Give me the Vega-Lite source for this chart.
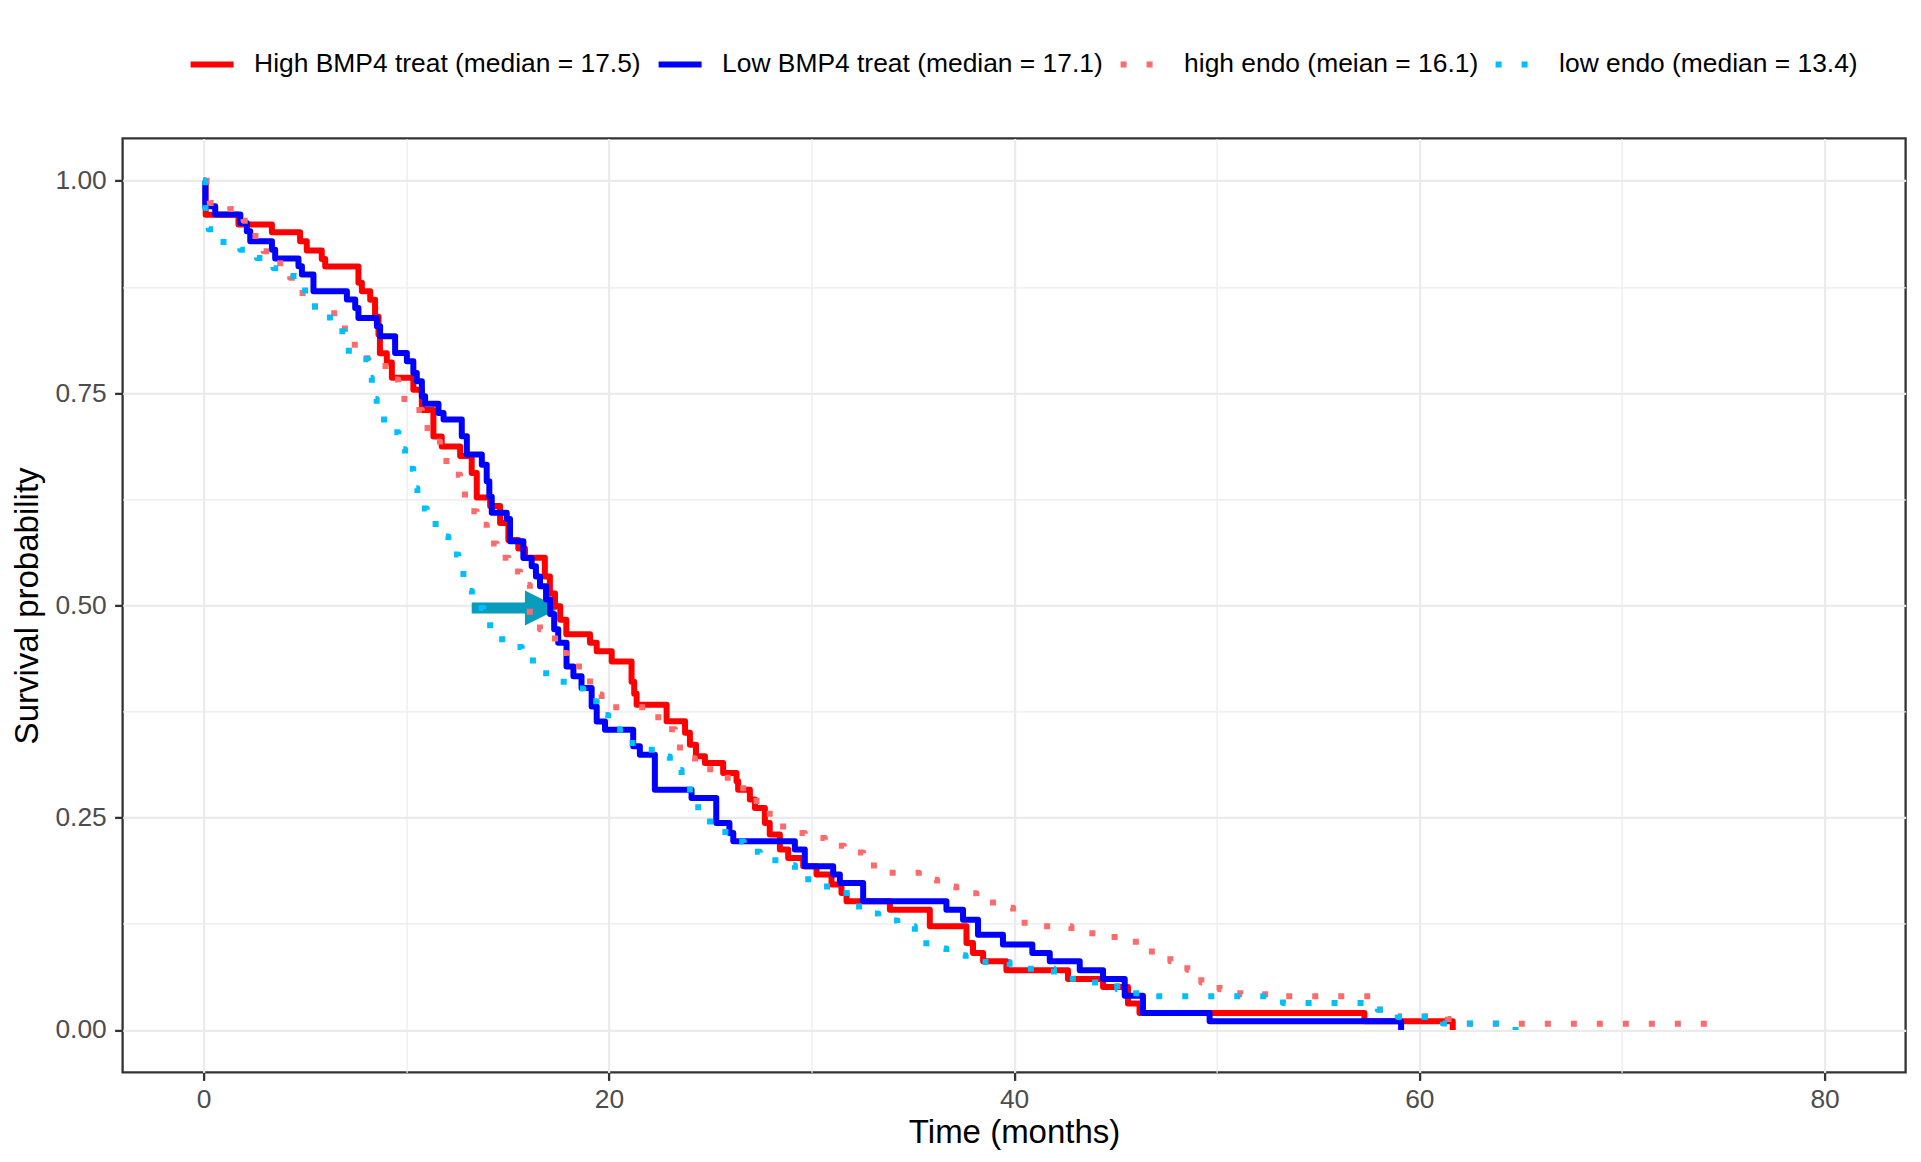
{
  "$schema": "https://vega.github.io/schema/vega-lite/v6.json",
  "width": 1783,
  "height": 934,
  "autosize": {"type": "none"},
  "padding": {"left": 122.6, "top": 138.4, "right": 15.4, "bottom": 89.6},
  "background": "#ffffff",
  "config": {
    "font": "Liberation Sans",
    "view": {"stroke": "#333333", "strokeWidth": 2.3},
    "axis": {"domain": false, "labelFont": "Liberation Sans", "titleFont": "Liberation Sans"}
  },
  "datasets": {
    "shaft": [{"time": 13.23, "time2": 15.95, "surv": 0.497}],
    "head": [{"time": 16.72, "surv": 0.497}],
    "km": [
      {"group": "High BMP4 treat (median = 17.5)", "time": 0, "surv": 1.0},
      {"group": "High BMP4 treat (median = 17.5)", "time": 0.1, "surv": 0.96},
      {"group": "High BMP4 treat (median = 17.5)", "time": 1.72, "surv": 0.9485},
      {"group": "High BMP4 treat (median = 17.5)", "time": 3.37, "surv": 0.9395},
      {"group": "High BMP4 treat (median = 17.5)", "time": 4.76, "surv": 0.929},
      {"group": "High BMP4 treat (median = 17.5)", "time": 5.09, "surv": 0.918},
      {"group": "High BMP4 treat (median = 17.5)", "time": 5.83, "surv": 0.908},
      {"group": "High BMP4 treat (median = 17.5)", "time": 6.0, "surv": 0.899},
      {"group": "High BMP4 treat (median = 17.5)", "time": 7.64, "surv": 0.88},
      {"group": "High BMP4 treat (median = 17.5)", "time": 7.81, "surv": 0.87},
      {"group": "High BMP4 treat (median = 17.5)", "time": 8.22, "surv": 0.86},
      {"group": "High BMP4 treat (median = 17.5)", "time": 8.46, "surv": 0.84},
      {"group": "High BMP4 treat (median = 17.5)", "time": 8.63, "surv": 0.819},
      {"group": "High BMP4 treat (median = 17.5)", "time": 8.7, "surv": 0.797},
      {"group": "High BMP4 treat (median = 17.5)", "time": 9.04, "surv": 0.786},
      {"group": "High BMP4 treat (median = 17.5)", "time": 9.29, "surv": 0.768},
      {"group": "High BMP4 treat (median = 17.5)", "time": 10.35, "surv": 0.754},
      {"group": "High BMP4 treat (median = 17.5)", "time": 10.77, "surv": 0.73},
      {"group": "High BMP4 treat (median = 17.5)", "time": 11.34, "surv": 0.699},
      {"group": "High BMP4 treat (median = 17.5)", "time": 11.75, "surv": 0.687},
      {"group": "High BMP4 treat (median = 17.5)", "time": 12.66, "surv": 0.676},
      {"group": "High BMP4 treat (median = 17.5)", "time": 13.23, "surv": 0.656},
      {"group": "High BMP4 treat (median = 17.5)", "time": 13.48, "surv": 0.627},
      {"group": "High BMP4 treat (median = 17.5)", "time": 14.14, "surv": 0.617},
      {"group": "High BMP4 treat (median = 17.5)", "time": 14.63, "surv": 0.597},
      {"group": "High BMP4 treat (median = 17.5)", "time": 15.04, "surv": 0.577},
      {"group": "High BMP4 treat (median = 17.5)", "time": 15.53, "surv": 0.567},
      {"group": "High BMP4 treat (median = 17.5)", "time": 15.86, "surv": 0.556},
      {"group": "High BMP4 treat (median = 17.5)", "time": 16.84, "surv": 0.534},
      {"group": "High BMP4 treat (median = 17.5)", "time": 17.09, "surv": 0.514},
      {"group": "High BMP4 treat (median = 17.5)", "time": 17.34, "surv": 0.499},
      {"group": "High BMP4 treat (median = 17.5)", "time": 17.6, "surv": 0.483},
      {"group": "High BMP4 treat (median = 17.5)", "time": 17.9, "surv": 0.466},
      {"group": "High BMP4 treat (median = 17.5)", "time": 19.07, "surv": 0.456},
      {"group": "High BMP4 treat (median = 17.5)", "time": 19.4, "surv": 0.446},
      {"group": "High BMP4 treat (median = 17.5)", "time": 20.14, "surv": 0.434},
      {"group": "High BMP4 treat (median = 17.5)", "time": 21.12, "surv": 0.41},
      {"group": "High BMP4 treat (median = 17.5)", "time": 21.25, "surv": 0.396},
      {"group": "High BMP4 treat (median = 17.5)", "time": 21.37, "surv": 0.383},
      {"group": "High BMP4 treat (median = 17.5)", "time": 22.85, "surv": 0.3635},
      {"group": "High BMP4 treat (median = 17.5)", "time": 23.76, "surv": 0.35},
      {"group": "High BMP4 treat (median = 17.5)", "time": 24.0, "surv": 0.336},
      {"group": "High BMP4 treat (median = 17.5)", "time": 24.3, "surv": 0.3223},
      {"group": "High BMP4 treat (median = 17.5)", "time": 24.74, "surv": 0.3144},
      {"group": "High BMP4 treat (median = 17.5)", "time": 25.64, "surv": 0.3027},
      {"group": "High BMP4 treat (median = 17.5)", "time": 26.3, "surv": 0.293},
      {"group": "High BMP4 treat (median = 17.5)", "time": 26.38, "surv": 0.283},
      {"group": "High BMP4 treat (median = 17.5)", "time": 26.96, "surv": 0.2713},
      {"group": "High BMP4 treat (median = 17.5)", "time": 27.21, "surv": 0.2615},
      {"group": "High BMP4 treat (median = 17.5)", "time": 27.7, "surv": 0.2438},
      {"group": "High BMP4 treat (median = 17.5)", "time": 27.94, "surv": 0.2301},
      {"group": "High BMP4 treat (median = 17.5)", "time": 28.44, "surv": 0.2124},
      {"group": "High BMP4 treat (median = 17.5)", "time": 28.85, "surv": 0.2026},
      {"group": "High BMP4 treat (median = 17.5)", "time": 29.59, "surv": 0.1928},
      {"group": "High BMP4 treat (median = 17.5)", "time": 30.25, "surv": 0.183},
      {"group": "High BMP4 treat (median = 17.5)", "time": 30.99, "surv": 0.1712},
      {"group": "High BMP4 treat (median = 17.5)", "time": 31.48, "surv": 0.1613},
      {"group": "High BMP4 treat (median = 17.5)", "time": 31.73, "surv": 0.1515},
      {"group": "High BMP4 treat (median = 17.5)", "time": 33.87, "surv": 0.1417},
      {"group": "High BMP4 treat (median = 17.5)", "time": 35.84, "surv": 0.1221},
      {"group": "High BMP4 treat (median = 17.5)", "time": 37.65, "surv": 0.1024},
      {"group": "High BMP4 treat (median = 17.5)", "time": 37.97, "surv": 0.0907},
      {"group": "High BMP4 treat (median = 17.5)", "time": 38.47, "surv": 0.0809},
      {"group": "High BMP4 treat (median = 17.5)", "time": 39.62, "surv": 0.0702},
      {"group": "High BMP4 treat (median = 17.5)", "time": 42.66, "surv": 0.06},
      {"group": "High BMP4 treat (median = 17.5)", "time": 44.39, "surv": 0.0506},
      {"group": "High BMP4 treat (median = 17.5)", "time": 45.62, "surv": 0.031},
      {"group": "High BMP4 treat (median = 17.5)", "time": 46.19, "surv": 0.0201},
      {"group": "High BMP4 treat (median = 17.5)", "time": 57.29, "surv": 0.0103},
      {"group": "High BMP4 treat (median = 17.5)", "time": 61.65, "surv": 0.0},
      {"group": "Low BMP4 treat (median = 17.1)", "time": 0, "surv": 1.0},
      {"group": "Low BMP4 treat (median = 17.1)", "time": 0.08, "surv": 0.97},
      {"group": "Low BMP4 treat (median = 17.1)", "time": 0.57, "surv": 0.9603},
      {"group": "Low BMP4 treat (median = 17.1)", "time": 1.81, "surv": 0.9505},
      {"group": "Low BMP4 treat (median = 17.1)", "time": 2.13, "surv": 0.9407},
      {"group": "Low BMP4 treat (median = 17.1)", "time": 2.3, "surv": 0.929},
      {"group": "Low BMP4 treat (median = 17.1)", "time": 3.37, "surv": 0.919},
      {"group": "Low BMP4 treat (median = 17.1)", "time": 3.53, "surv": 0.9085},
      {"group": "Low BMP4 treat (median = 17.1)", "time": 4.68, "surv": 0.8995},
      {"group": "Low BMP4 treat (median = 17.1)", "time": 4.85, "surv": 0.8897},
      {"group": "Low BMP4 treat (median = 17.1)", "time": 5.42, "surv": 0.8701},
      {"group": "Low BMP4 treat (median = 17.1)", "time": 7.07, "surv": 0.8602},
      {"group": "Low BMP4 treat (median = 17.1)", "time": 7.48, "surv": 0.8504},
      {"group": "Low BMP4 treat (median = 17.1)", "time": 7.64, "surv": 0.8386},
      {"group": "Low BMP4 treat (median = 17.1)", "time": 8.55, "surv": 0.8288},
      {"group": "Low BMP4 treat (median = 17.1)", "time": 8.71, "surv": 0.817},
      {"group": "Low BMP4 treat (median = 17.1)", "time": 9.45, "surv": 0.7974},
      {"group": "Low BMP4 treat (median = 17.1)", "time": 10.03, "surv": 0.7875},
      {"group": "Low BMP4 treat (median = 17.1)", "time": 10.35, "surv": 0.7738},
      {"group": "Low BMP4 treat (median = 17.1)", "time": 10.52, "surv": 0.764},
      {"group": "Low BMP4 treat (median = 17.1)", "time": 10.77, "surv": 0.7463},
      {"group": "Low BMP4 treat (median = 17.1)", "time": 10.93, "surv": 0.7375},
      {"group": "Low BMP4 treat (median = 17.1)", "time": 11.59, "surv": 0.7266},
      {"group": "Low BMP4 treat (median = 17.1)", "time": 11.84, "surv": 0.7188},
      {"group": "Low BMP4 treat (median = 17.1)", "time": 12.74, "surv": 0.6991},
      {"group": "Low BMP4 treat (median = 17.1)", "time": 12.99, "surv": 0.6776},
      {"group": "Low BMP4 treat (median = 17.1)", "time": 13.73, "surv": 0.6657},
      {"group": "Low BMP4 treat (median = 17.1)", "time": 13.97, "surv": 0.6461},
      {"group": "Low BMP4 treat (median = 17.1)", "time": 14.1, "surv": 0.628},
      {"group": "Low BMP4 treat (median = 17.1)", "time": 14.22, "surv": 0.609},
      {"group": "Low BMP4 treat (median = 17.1)", "time": 14.96, "surv": 0.6017},
      {"group": "Low BMP4 treat (median = 17.1)", "time": 15.12, "surv": 0.5755},
      {"group": "Low BMP4 treat (median = 17.1)", "time": 15.78, "surv": 0.5558},
      {"group": "Low BMP4 treat (median = 17.1)", "time": 16.19, "surv": 0.546},
      {"group": "Low BMP4 treat (median = 17.1)", "time": 16.4, "surv": 0.534},
      {"group": "Low BMP4 treat (median = 17.1)", "time": 16.6, "surv": 0.5225},
      {"group": "Low BMP4 treat (median = 17.1)", "time": 16.9, "surv": 0.507},
      {"group": "Low BMP4 treat (median = 17.1)", "time": 17.1, "surv": 0.49},
      {"group": "Low BMP4 treat (median = 17.1)", "time": 17.3, "surv": 0.472},
      {"group": "Low BMP4 treat (median = 17.1)", "time": 17.5, "surv": 0.456},
      {"group": "Low BMP4 treat (median = 17.1)", "time": 17.91, "surv": 0.428},
      {"group": "Low BMP4 treat (median = 17.1)", "time": 18.25, "surv": 0.4166},
      {"group": "Low BMP4 treat (median = 17.1)", "time": 18.65, "surv": 0.4028},
      {"group": "Low BMP4 treat (median = 17.1)", "time": 19.15, "surv": 0.3808},
      {"group": "Low BMP4 treat (median = 17.1)", "time": 19.4, "surv": 0.3632},
      {"group": "Low BMP4 treat (median = 17.1)", "time": 19.81, "surv": 0.3536},
      {"group": "Low BMP4 treat (median = 17.1)", "time": 21.2, "surv": 0.334},
      {"group": "Low BMP4 treat (median = 17.1)", "time": 21.53, "surv": 0.3241},
      {"group": "Low BMP4 treat (median = 17.1)", "time": 22.27, "surv": 0.283},
      {"group": "Low BMP4 treat (median = 17.1)", "time": 24.08, "surv": 0.2733},
      {"group": "Low BMP4 treat (median = 17.1)", "time": 25.3, "surv": 0.2438},
      {"group": "Low BMP4 treat (median = 17.1)", "time": 25.95, "surv": 0.232},
      {"group": "Low BMP4 treat (median = 17.1)", "time": 26.14, "surv": 0.2222},
      {"group": "Low BMP4 treat (median = 17.1)", "time": 29.18, "surv": 0.2124},
      {"group": "Low BMP4 treat (median = 17.1)", "time": 29.67, "surv": 0.1927},
      {"group": "Low BMP4 treat (median = 17.1)", "time": 31.07, "surv": 0.183},
      {"group": "Low BMP4 treat (median = 17.1)", "time": 31.4, "surv": 0.1731},
      {"group": "Low BMP4 treat (median = 17.1)", "time": 32.55, "surv": 0.1515},
      {"group": "Low BMP4 treat (median = 17.1)", "time": 36.66, "surv": 0.1417},
      {"group": "Low BMP4 treat (median = 17.1)", "time": 37.48, "surv": 0.1299},
      {"group": "Low BMP4 treat (median = 17.1)", "time": 38.22, "surv": 0.1122},
      {"group": "Low BMP4 treat (median = 17.1)", "time": 39.45, "surv": 0.1005},
      {"group": "Low BMP4 treat (median = 17.1)", "time": 40.9, "surv": 0.0907},
      {"group": "Low BMP4 treat (median = 17.1)", "time": 41.76, "surv": 0.0808},
      {"group": "Low BMP4 treat (median = 17.1)", "time": 43.24, "surv": 0.0702},
      {"group": "Low BMP4 treat (median = 17.1)", "time": 44.39, "surv": 0.06},
      {"group": "Low BMP4 treat (median = 17.1)", "time": 45.46, "surv": 0.0404},
      {"group": "Low BMP4 treat (median = 17.1)", "time": 46.36, "surv": 0.0201},
      {"group": "Low BMP4 treat (median = 17.1)", "time": 49.65, "surv": 0.0103},
      {"group": "Low BMP4 treat (median = 17.1)", "time": 59.1, "surv": 0.0},
      {"group": "high endo (meian = 16.1)", "time": 0, "surv": 1.0},
      {"group": "high endo (meian = 16.1)", "time": 0.3, "surv": 0.974},
      {"group": "high endo (meian = 16.1)", "time": 1.31, "surv": 0.967},
      {"group": "high endo (meian = 16.1)", "time": 1.97, "surv": 0.953},
      {"group": "high endo (meian = 16.1)", "time": 2.38, "surv": 0.935},
      {"group": "high endo (meian = 16.1)", "time": 2.96, "surv": 0.917},
      {"group": "high endo (meian = 16.1)", "time": 3.61, "surv": 0.903},
      {"group": "high endo (meian = 16.1)", "time": 4.27, "surv": 0.886},
      {"group": "high endo (meian = 16.1)", "time": 4.68, "surv": 0.868},
      {"group": "high endo (meian = 16.1)", "time": 5.34, "surv": 0.852},
      {"group": "high endo (meian = 16.1)", "time": 6.24, "surv": 0.844},
      {"group": "high endo (meian = 16.1)", "time": 6.7, "surv": 0.826},
      {"group": "high endo (meian = 16.1)", "time": 7.15, "surv": 0.807},
      {"group": "high endo (meian = 16.1)", "time": 7.89, "surv": 0.791},
      {"group": "high endo (meian = 16.1)", "time": 8.71, "surv": 0.782},
      {"group": "high endo (meian = 16.1)", "time": 9.28, "surv": 0.766},
      {"group": "high endo (meian = 16.1)", "time": 9.61, "surv": 0.743},
      {"group": "high endo (meian = 16.1)", "time": 10.35, "surv": 0.73},
      {"group": "high endo (meian = 16.1)", "time": 10.77, "surv": 0.709},
      {"group": "high endo (meian = 16.1)", "time": 11.26, "surv": 0.693},
      {"group": "high endo (meian = 16.1)", "time": 11.67, "surv": 0.67},
      {"group": "high endo (meian = 16.1)", "time": 12.16, "surv": 0.654},
      {"group": "high endo (meian = 16.1)", "time": 12.66, "surv": 0.636},
      {"group": "high endo (meian = 16.1)", "time": 12.9, "surv": 0.611},
      {"group": "high endo (meian = 16.1)", "time": 13.48, "surv": 0.595},
      {"group": "high endo (meian = 16.1)", "time": 13.97, "surv": 0.573},
      {"group": "high endo (meian = 16.1)", "time": 14.46, "surv": 0.556},
      {"group": "high endo (meian = 16.1)", "time": 15.04, "surv": 0.54},
      {"group": "high endo (meian = 16.1)", "time": 15.62, "surv": 0.524},
      {"group": "high endo (meian = 16.1)", "time": 16.1, "surv": 0.488},
      {"group": "high endo (meian = 16.1)", "time": 16.6, "surv": 0.472},
      {"group": "high endo (meian = 16.1)", "time": 17.01, "surv": 0.465},
      {"group": "high endo (meian = 16.1)", "time": 17.34, "surv": 0.444},
      {"group": "high endo (meian = 16.1)", "time": 17.92, "surv": 0.428},
      {"group": "high endo (meian = 16.1)", "time": 18.74, "surv": 0.418},
      {"group": "high endo (meian = 16.1)", "time": 19.07, "surv": 0.395},
      {"group": "high endo (meian = 16.1)", "time": 19.64, "surv": 0.38},
      {"group": "high endo (meian = 16.1)", "time": 21.86, "surv": 0.372},
      {"group": "high endo (meian = 16.1)", "time": 22.44, "surv": 0.354},
      {"group": "high endo (meian = 16.1)", "time": 23.26, "surv": 0.342},
      {"group": "high endo (meian = 16.1)", "time": 23.51, "surv": 0.32},
      {"group": "high endo (meian = 16.1)", "time": 24.25, "surv": 0.307},
      {"group": "high endo (meian = 16.1)", "time": 25.56, "surv": 0.297},
      {"group": "high endo (meian = 16.1)", "time": 26.13, "surv": 0.293},
      {"group": "high endo (meian = 16.1)", "time": 26.63, "surv": 0.275},
      {"group": "high endo (meian = 16.1)", "time": 27.29, "surv": 0.259},
      {"group": "high endo (meian = 16.1)", "time": 27.94, "surv": 0.244},
      {"group": "high endo (meian = 16.1)", "time": 28.6, "surv": 0.232},
      {"group": "high endo (meian = 16.1)", "time": 29.67, "surv": 0.226},
      {"group": "high endo (meian = 16.1)", "time": 30.66, "surv": 0.217},
      {"group": "high endo (meian = 16.1)", "time": 31.6, "surv": 0.209},
      {"group": "high endo (meian = 16.1)", "time": 32.55, "surv": 0.201},
      {"group": "high endo (meian = 16.1)", "time": 33.08, "surv": 0.185},
      {"group": "high endo (meian = 16.1)", "time": 35.3, "surv": 0.177},
      {"group": "high endo (meian = 16.1)", "time": 36.2, "surv": 0.169},
      {"group": "high endo (meian = 16.1)", "time": 37.15, "surv": 0.161},
      {"group": "high endo (meian = 16.1)", "time": 38.14, "surv": 0.154},
      {"group": "high endo (meian = 16.1)", "time": 38.96, "surv": 0.144},
      {"group": "high endo (meian = 16.1)", "time": 39.95, "surv": 0.137},
      {"group": "high endo (meian = 16.1)", "time": 40.52, "surv": 0.122},
      {"group": "high endo (meian = 16.1)", "time": 42.83, "surv": 0.114},
      {"group": "high endo (meian = 16.1)", "time": 44.96, "surv": 0.104},
      {"group": "high endo (meian = 16.1)", "time": 46.8, "surv": 0.088},
      {"group": "high endo (meian = 16.1)", "time": 47.71, "surv": 0.081},
      {"group": "high endo (meian = 16.1)", "time": 48.55, "surv": 0.071},
      {"group": "high endo (meian = 16.1)", "time": 49.24, "surv": 0.056},
      {"group": "high endo (meian = 16.1)", "time": 50.14, "surv": 0.048},
      {"group": "high endo (meian = 16.1)", "time": 51.16, "surv": 0.042},
      {"group": "high endo (meian = 16.1)", "time": 53.0, "surv": 0.0397},
      {"group": "high endo (meian = 16.1)", "time": 57.8, "surv": 0.024},
      {"group": "high endo (meian = 16.1)", "time": 58.94, "surv": 0.016},
      {"group": "high endo (meian = 16.1)", "time": 61.4, "surv": 0.0128},
      {"group": "high endo (meian = 16.1)", "time": 62.0, "surv": 0.0074},
      {"group": "high endo (meian = 16.1)", "time": 74.7, "surv": 0.0},
      {"group": "low endo (median = 13.4)", "time": 0, "surv": 1.0},
      {"group": "low endo (median = 13.4)", "time": 0.08, "surv": 0.968},
      {"group": "low endo (median = 13.4)", "time": 0.25, "surv": 0.943},
      {"group": "low endo (median = 13.4)", "time": 0.82, "surv": 0.928},
      {"group": "low endo (median = 13.4)", "time": 1.81, "surv": 0.919},
      {"group": "low endo (median = 13.4)", "time": 2.63, "surv": 0.909},
      {"group": "low endo (median = 13.4)", "time": 3.45, "surv": 0.897},
      {"group": "low endo (median = 13.4)", "time": 4.27, "surv": 0.888},
      {"group": "low endo (median = 13.4)", "time": 4.85, "surv": 0.871},
      {"group": "low endo (median = 13.4)", "time": 5.34, "surv": 0.852},
      {"group": "low endo (median = 13.4)", "time": 6.0, "surv": 0.839},
      {"group": "low endo (median = 13.4)", "time": 6.65, "surv": 0.823},
      {"group": "low endo (median = 13.4)", "time": 6.98, "surv": 0.8},
      {"group": "low endo (median = 13.4)", "time": 7.72, "surv": 0.79},
      {"group": "low endo (median = 13.4)", "time": 8.13, "surv": 0.768},
      {"group": "low endo (median = 13.4)", "time": 8.3, "surv": 0.743},
      {"group": "low endo (median = 13.4)", "time": 8.54, "surv": 0.719},
      {"group": "low endo (median = 13.4)", "time": 9.28, "surv": 0.704},
      {"group": "low endo (median = 13.4)", "time": 9.61, "surv": 0.684},
      {"group": "low endo (median = 13.4)", "time": 9.94, "surv": 0.661},
      {"group": "low endo (median = 13.4)", "time": 10.35, "surv": 0.638},
      {"group": "low endo (median = 13.4)", "time": 10.55, "surv": 0.614},
      {"group": "low endo (median = 13.4)", "time": 11.01, "surv": 0.596},
      {"group": "low endo (median = 13.4)", "time": 11.67, "surv": 0.581},
      {"group": "low endo (median = 13.4)", "time": 12.08, "surv": 0.56},
      {"group": "low endo (median = 13.4)", "time": 12.57, "surv": 0.541},
      {"group": "low endo (median = 13.4)", "time": 12.82, "surv": 0.517},
      {"group": "low endo (median = 13.4)", "time": 13.24, "surv": 0.497},
      {"group": "low endo (median = 13.4)", "time": 13.81, "surv": 0.481},
      {"group": "low endo (median = 13.4)", "time": 14.14, "surv": 0.46},
      {"group": "low endo (median = 13.4)", "time": 15.12, "surv": 0.451},
      {"group": "low endo (median = 13.4)", "time": 15.7, "surv": 0.435},
      {"group": "low endo (median = 13.4)", "time": 16.44, "surv": 0.42},
      {"group": "low endo (median = 13.4)", "time": 17.26, "surv": 0.41},
      {"group": "low endo (median = 13.4)", "time": 18.08, "surv": 0.402},
      {"group": "low endo (median = 13.4)", "time": 18.74, "surv": 0.387},
      {"group": "low endo (median = 13.4)", "time": 19.4, "surv": 0.371},
      {"group": "low endo (median = 13.4)", "time": 19.97, "surv": 0.354},
      {"group": "low endo (median = 13.4)", "time": 20.55, "surv": 0.338},
      {"group": "low endo (median = 13.4)", "time": 21.5, "surv": 0.33},
      {"group": "low endo (median = 13.4)", "time": 22.39, "surv": 0.322},
      {"group": "low endo (median = 13.4)", "time": 23.01, "surv": 0.306},
      {"group": "low endo (median = 13.4)", "time": 23.59, "surv": 0.29},
      {"group": "low endo (median = 13.4)", "time": 24.0, "surv": 0.272},
      {"group": "low endo (median = 13.4)", "time": 24.41, "surv": 0.25},
      {"group": "low endo (median = 13.4)", "time": 24.99, "surv": 0.233},
      {"group": "low endo (median = 13.4)", "time": 26.14, "surv": 0.222},
      {"group": "low endo (median = 13.4)", "time": 26.66, "surv": 0.21},
      {"group": "low endo (median = 13.4)", "time": 27.45, "surv": 0.2},
      {"group": "low endo (median = 13.4)", "time": 28.44, "surv": 0.194},
      {"group": "low endo (median = 13.4)", "time": 29.18, "surv": 0.184},
      {"group": "low endo (median = 13.4)", "time": 29.84, "surv": 0.169},
      {"group": "low endo (median = 13.4)", "time": 31.73, "surv": 0.153},
      {"group": "low endo (median = 13.4)", "time": 32.35, "surv": 0.137},
      {"group": "low endo (median = 13.4)", "time": 33.29, "surv": 0.129},
      {"group": "low endo (median = 13.4)", "time": 34.24, "surv": 0.122},
      {"group": "low endo (median = 13.4)", "time": 35.1, "surv": 0.112},
      {"group": "low endo (median = 13.4)", "time": 35.67, "surv": 0.096},
      {"group": "low endo (median = 13.4)", "time": 36.66, "surv": 0.088},
      {"group": "low endo (median = 13.4)", "time": 37.61, "surv": 0.08},
      {"group": "low endo (median = 13.4)", "time": 39.78, "surv": 0.0722},
      {"group": "low endo (median = 13.4)", "time": 41.97, "surv": 0.064},
      {"group": "low endo (median = 13.4)", "time": 42.9, "surv": 0.056},
      {"group": "low endo (median = 13.4)", "time": 45.09, "surv": 0.048},
      {"group": "low endo (median = 13.4)", "time": 46.03, "surv": 0.0397},
      {"group": "low endo (median = 13.4)", "time": 53.27, "surv": 0.0318},
      {"group": "low endo (median = 13.4)", "time": 57.95, "surv": 0.0239},
      {"group": "low endo (median = 13.4)", "time": 58.94, "surv": 0.0153},
      {"group": "low endo (median = 13.4)", "time": 61.16, "surv": 0.0075},
      {"group": "low endo (median = 13.4)", "time": 64.75, "surv": 0.0}
    ]
  },
  "encoding": {
    "x": {
      "field": "time",
      "type": "quantitative",
      "scale": {"domain": [-4, 84], "nice": false, "zero": false},
      "axis": {
        "title": "Time (months)",
        "values": [0, 10, 20, 30, 40, 50, 60, 70, 80],
        "labelExpr": "datum.value % 20 == 0 ? datum.label : ''",
        "labelFontSize": 26.4,
        "labelColor": "#4D4D4D",
        "labelPadding": 6.3,
        "labelFlush": false,
        "labelOverlap": false,
        "tickSize": 8,
        "tickWidth": 2.3,
        "tickColor": "#333333",
        "tickOpacity": {"condition": {"test": "datum.value % 20 != 0", "value": 0}, "value": 1},
        "grid": true,
        "gridColor": "#EBEBEB",
        "gridWidth": {"condition": {"test": "datum.value % 20 == 0", "value": 2.2}, "value": 1.2},
        "titleFontSize": 33,
        "titleFontWeight": "normal",
        "titleColor": "#000000",
        "titlePadding": 3
      }
    },
    "y": {
      "field": "surv",
      "type": "quantitative",
      "scale": {"domain": [-0.05, 1.05], "nice": false, "zero": false},
      "axis": {
        "title": "Survival probability",
        "values": [0, 0.125, 0.25, 0.375, 0.5, 0.625, 0.75, 0.875, 1],
        "labelExpr": "(datum.value * 8) % 2 == 0 ? format(datum.value, '.2f') : ''",
        "labelFontSize": 26.4,
        "labelColor": "#4D4D4D",
        "labelPadding": 8.3,
        "labelFlush": false,
        "labelOverlap": false,
        "tickSize": 8,
        "tickWidth": 2.3,
        "tickColor": "#333333",
        "tickOpacity": {"condition": {"test": "(datum.value * 8) % 2 != 0", "value": 0}, "value": 1},
        "grid": true,
        "gridColor": "#EBEBEB",
        "gridWidth": {"condition": {"test": "(datum.value * 8) % 2 == 0", "value": 2.2}, "value": 1.2},
        "titleFontSize": 33,
        "titleFontWeight": "normal",
        "titleColor": "#000000",
        "titlePadding": 10
      }
    }
  },
  "layer": [
    {
      "data": {"name": "shaft"},
      "mark": {"type": "rule", "color": "#0A9CBD", "strokeWidth": 11, "strokeCap": "butt"},
      "encoding": {"x2": {"field": "time2"}}
    },
    {
      "data": {"name": "head"},
      "mark": {"type": "point", "shape": "M-1,-1L1,0L-1,1Z", "size": 1225, "filled": true, "color": "#0A9CBD", "opacity": 1, "strokeWidth": 0}
    },
    {
      "data": {"name": "km"},
      "mark": {"type": "line", "interpolate": "step-after", "strokeWidth": 6, "strokeJoin": "round", "strokeCap": "butt"},
      "encoding": {
        "color": {
          "field": "group",
          "type": "nominal",
          "scale": {
            "domain": ["High BMP4 treat (median = 17.5)", "Low BMP4 treat (median = 17.1)", "high endo (meian = 16.1)", "low endo (median = 13.4)"],
            "range": ["#FF0000", "#0000FF", "#FF6A6A", "#00BFFF"]
          },
          "legend": {
            "title": null,
            "orient": "none",
            "legendX": 65,
            "legendY": -98.5,
            "direction": "horizontal",
            "columns": 4,
            "symbolType": "stroke",
            "symbolSize": 1849,
            "symbolStrokeWidth": 6,
            "labelFontSize": 26.4,
            "labelColor": "#000000",
            "labelFont": "Liberation Sans",
            "labelOffset": 17.5,
            "labelLimit": 1000,
            "columnPadding": 5,
            "padding": 0
          }
        },
        "strokeDash": {
          "field": "group",
          "type": "nominal",
          "scale": {
            "domain": ["High BMP4 treat (median = 17.5)", "Low BMP4 treat (median = 17.1)", "high endo (meian = 16.1)", "low endo (median = 13.4)"],
            "range": [[1, 0], [1, 0], [6, 20], [6, 20]]
          }
        }
      }
    }
  ]
}
